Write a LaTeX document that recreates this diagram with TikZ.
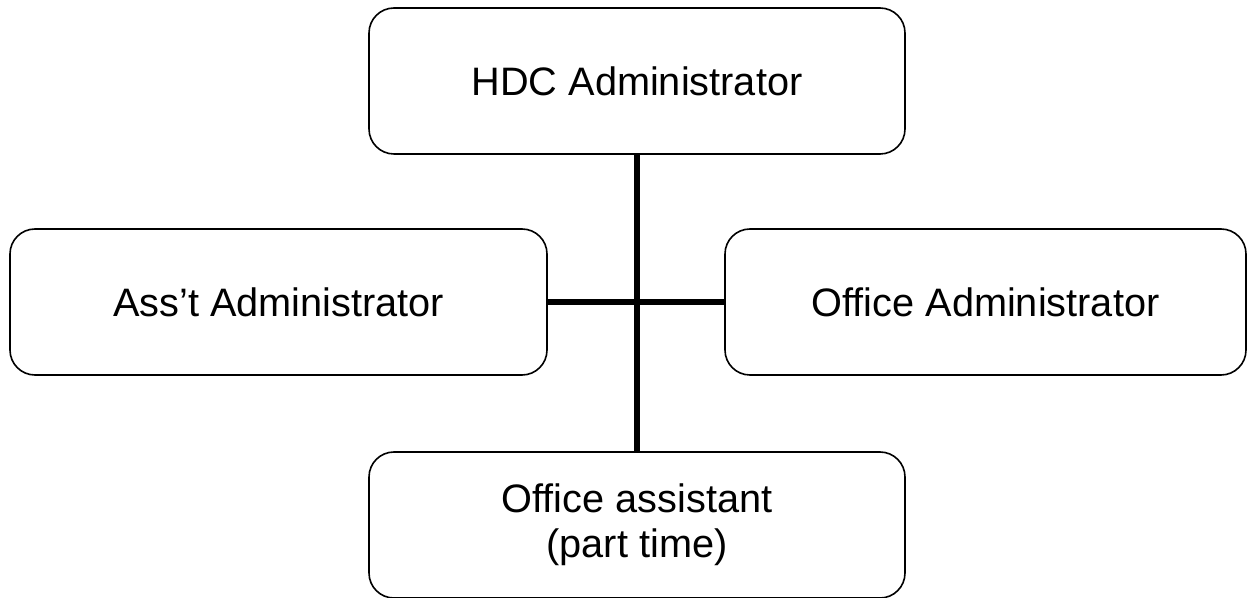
\documentclass[tikz,border=0pt]{standalone}
\usepackage{fontspec}
\setmainfont{Liberation Sans}
\tikzset{
  caja/.style={draw, line width=0.8pt, rounded corners=12.5pt, align=center,
    minimum height=73pt, font=\fontsize{19.85}{22.5}\selectfont},
  linea/.style={line width=3pt}
}
\begin{document}
\begin{tikzpicture}[x=0.5pt,y=-0.5pt]
    \useasboundingbox (0,0) rectangle (1247,598);
    % Cajas
    \node[caja, minimum width=268pt] (hdc)    at (637,81)    {HDC Administrator};
    \node[caja, minimum width=268.5pt] (asst) at (278.5,302) {Ass't Administrator};
    \node[caja, minimum width=260.5pt] (ofadm) at (985.5,302) {Office Administrator};
    \node[caja, minimum width=268pt] (ofasis) at (637,525)   {Office assistant\\(part time)};
    % Lineas
    \draw[linea] (hdc.south) -- (ofasis.north);
    \draw[linea] (asst.east) -- (ofadm.west);
\end{tikzpicture}
\end{document}
